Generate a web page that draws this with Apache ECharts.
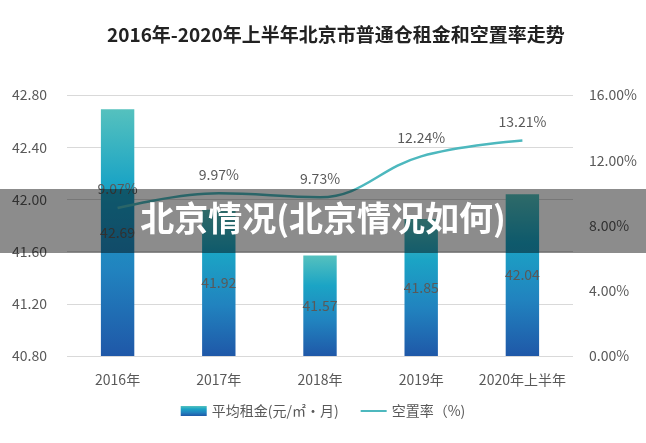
<!DOCTYPE html>
<html>
<head>
<meta charset="utf-8">
<script src="https://cdn.jsdelivr.net/npm/echarts@6/dist/echarts.min.js"></script>
<style>
  html, body { margin: 0; padding: 0; background: #fff; }
  #chart { width: 646px; height: 443px; }
</style>
</head>
<body>
<div id="chart"></div>
<script>
// 数据
const years = ["2016年", "2017年", "2018年", "2019年", "2020年上半年"];
const rentValues = [42.69, 41.92, 41.57, 41.85, 42.04];   // 平均租金
const vacancyValues = [9.07, 9.97, 9.73, 12.24, 13.21];   // 空置率 %

const textFont = "'Noto Sans CJK SC', 'Noto Sans', sans-serif";
const labelColor = "#595959";

// 柱子渐变色
const barGradient = new echarts.graphic.LinearGradient(0, 0, 0, 1, [
  { offset: 0, color: "#55c1be" },
  { offset: 0.3, color: "#1ba4c5" },
  { offset: 0.65, color: "#2183bf" },
  { offset: 1, color: "#1f58a8" }
]);

const chart = echarts.init(document.getElementById("chart"));

const option = {
  backgroundColor: "#ffffff",
  textStyle: { fontFamily: textFont },
  title: {
    text: "2016年-2020年上半年北京市普通仓租金和空置率走势",
    left: 102,
    top: 20,
    textStyle: { fontSize: 19, fontWeight: "bold", color: "#222222", fontFamily: textFont }
  },
  legend: {
    bottom: 20,
    left: "center",
    itemWidth: 26,
    itemHeight: 10,
    itemGap: 22,
    textStyle: { fontSize: 14, color: labelColor, fontFamily: textFont },
    data: [
      { name: "平均租金(元/㎡·月)", icon: "rect" },
      { name: "空置率（%)", icon: "path://M0,4 L26,4 L26,6 L0,6 Z", itemStyle: { color: "#4db8be" } }
    ]
  },
  grid: { left: 67, right: 73, top: 95, bottom: 87 },
  xAxis: {
    type: "category",
    data: years,
    axisLine: { show: false },
    axisTick: { show: false },
    axisLabel: { fontSize: 14, color: labelColor, margin: 17, interval: 0 }
  },
  yAxis: [
    {
      type: "value",
      min: 40.8,
      max: 42.8,
      interval: 0.4,
      axisLine: { show: false },
      axisTick: { show: false },
      axisLabel: { fontSize: 14, color: labelColor, margin: 20, formatter: (v) => v.toFixed(2) },
      splitLine: { lineStyle: { color: "#d9d9d9", width: 1 } }
    },
    {
      type: "value",
      min: 0,
      max: 16,
      interval: 4,
      axisLine: { show: false },
      axisTick: { show: false },
      axisLabel: { fontSize: 14, color: labelColor, margin: 16, formatter: (v) => v.toFixed(2) + "%" },
      splitLine: { show: false }
    }
  ],
  series: [
    {
      name: "平均租金(元/㎡·月)",
      type: "bar",
      yAxisIndex: 0,
      barWidth: "33%",
      data: rentValues,
      itemStyle: { color: barGradient },
      label: {
        show: true,
        position: "inside",
        fontSize: 14,
        color: labelColor,
        formatter: (p) => p.value.toFixed(2)
      }
    },
    {
      name: "空置率（%)",
      type: "line",
      yAxisIndex: 1,
      smooth: 0.4,
      symbol: "circle",
      symbolSize: 0,
      data: vacancyValues,
      lineStyle: { color: "#4db8be", width: 2.5 },
      itemStyle: { color: "#4db8be" },
      label: {
        show: true,
        position: "top",
        distance: 12,
        fontSize: 14,
        color: labelColor,
        formatter: (p) => p.value.toFixed(2) + "%"
      }
    }
  ],
  // 水印横条
  graphic: [
    {
      type: "rect",
      left: 0,
      top: 189,
      z: 100,
      shape: { width: 646, height: 64 },
      style: { fill: "rgba(0,0,0,0.45)" }
    },
    {
      type: "text",
      left: "center",
      top: 201,
      z: 101,
      style: {
        text: "北京情况(北京情况如何)",
        fill: "#ffffff",
        font: "bold 34px 'Noto Sans CJK SC', sans-serif"
      }
    }
  ]
};

chart.setOption(option);
</script>
</body>
</html>
